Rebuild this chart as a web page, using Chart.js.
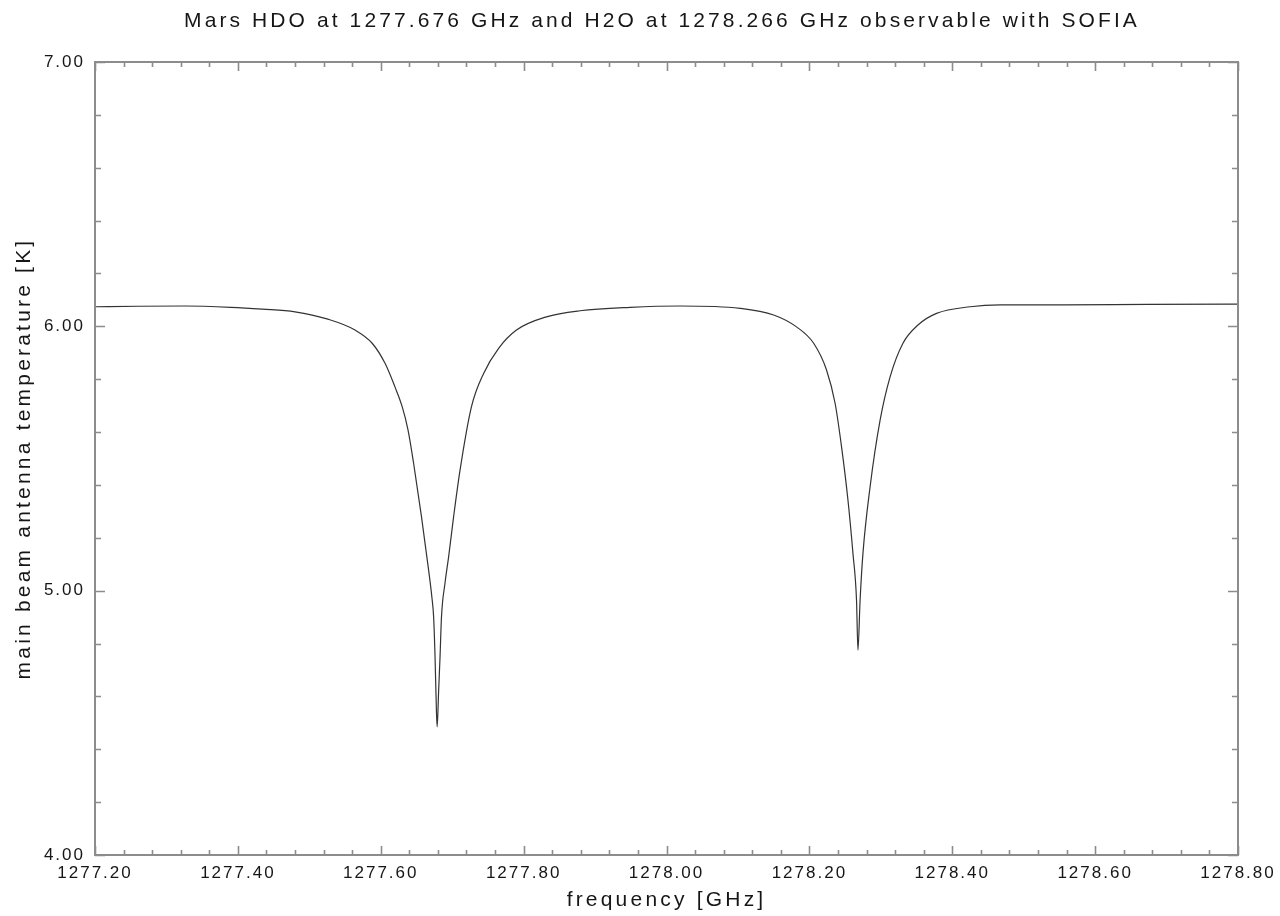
<!DOCTYPE html>
<html>
<head>
<meta charset="utf-8">
<script src="https://cdn.jsdelivr.net/npm/chart.js@4.4.0/dist/chart.umd.min.js"></script>
<style>
  html, body { margin: 0; padding: 0; background: #fff; }
  #wrap { width: 1280px; height: 916px; }
</style>
</head>
<body>
<div id="wrap"><canvas id="marsSpectrum"></canvas></div>
<script>
// frequency [GHz] and main beam antenna temperature [K]
const freqGHz = [
  1277.200, 1277.260, 1277.326, 1277.390, 1277.434, 1277.480, 1277.526, 1277.564,
  1277.588, 1277.606, 1277.620, 1277.630, 1277.638, 1277.646, 1277.657, 1277.667,
  1277.6715, 1277.674, 1277.676, 1277.678, 1277.679, 1277.681, 1277.683, 1277.685,
  1277.690, 1277.695, 1277.702, 1277.711, 1277.727, 1277.744, 1277.765, 1277.790,
  1277.832, 1277.879, 1277.949, 1278.019, 1278.103, 1278.150, 1278.182, 1278.206,
  1278.224, 1278.236, 1278.245, 1278.254, 1278.261, 1278.266, 1278.268, 1278.271,
  1278.275, 1278.285, 1278.299, 1278.313, 1278.331, 1278.352, 1278.378, 1278.425,
  1278.467, 1278.555, 1278.673, 1278.800
];
const tempK = [
  6.074, 6.076, 6.077, 6.072, 6.065, 6.055, 6.027, 5.986,
  5.936, 5.860, 5.770, 5.696, 5.610, 5.482, 5.280, 5.078,
  4.977, 4.901, 4.750, 4.540, 4.485, 4.620, 4.750, 4.900,
  5.030, 5.128, 5.280, 5.456, 5.696, 5.822, 5.917, 5.986,
  6.036, 6.059, 6.072, 6.077, 6.068, 6.043, 5.998, 5.936,
  5.835, 5.709, 5.545, 5.343, 5.141, 4.964, 4.775, 4.964,
  5.141, 5.393, 5.645, 5.809, 5.936, 6.005, 6.049, 6.074,
  6.081, 6.081, 6.083, 6.084
];

const chartTitle = 'Mars HDO at 1277.676 GHz and H2O at 1278.266 GHz observable with SOFIA';
const xMin = 1277.2, xMax = 1278.8, xMinorStep = 0.04;
const yMin = 4.0, yMax = 7.0, yMinorStep = 0.2;
const ticksPerMajor = 5;

const textColor = '#161616';
const frameColor = '#8c8c8c';
const fontFamily = '"Liberation Sans", Arial, sans-serif';

// inward tick marks on all four sides plus the box
const frameTicks = {
  id: 'frameTicks',
  beforeDraw(chart) {
    chart.ctx.letterSpacing = '2px';
  },
  afterUpdate(chart) {
    Object.values(chart.scales).forEach(s => {
      if (s._wrappedTitle) return;
      const orig = s.drawTitle;
      s.drawTitle = function () {
        const c = this.ctx;
        const prev = c.letterSpacing;
        c.letterSpacing = '3.2px';
        orig.apply(this, arguments);
        c.letterSpacing = prev;
      };
      s._wrappedTitle = true;
    });
  },
  afterDraw(chart) {
    const { ctx, chartArea: a, scales: { x, y } } = chart;
    ctx.save();
    ctx.strokeStyle = frameColor;
    ctx.lineWidth = 1.6;
    ctx.beginPath();
    x.ticks.forEach((t, i) => {
      const px = Math.round(x.getPixelForValue(t.value)) + 0.5;
      const len = i % ticksPerMajor === 0 ? 9 : 5;
      ctx.moveTo(px, a.bottom); ctx.lineTo(px, a.bottom - len);
      ctx.moveTo(px, a.top); ctx.lineTo(px, a.top + len);
    });
    y.ticks.forEach((t, i) => {
      const py = Math.round(y.getPixelForValue(t.value)) + 0.5;
      const len = i % ticksPerMajor === 0 ? 10 : 6;
      ctx.moveTo(a.left, py); ctx.lineTo(a.left + len, py);
      ctx.moveTo(a.right, py); ctx.lineTo(a.right - len, py);
    });
    ctx.stroke();
    ctx.lineWidth = 2;
    ctx.strokeRect(a.left, a.top, a.right - a.left, a.bottom - a.top);

    // chart title
    ctx.letterSpacing = '3.1px';
    ctx.font = '21px ' + fontFamily;
    ctx.fillStyle = textColor;
    ctx.textAlign = 'center';
    ctx.textBaseline = 'alphabetic';
    ctx.fillText(chartTitle, 662, 27);
    ctx.restore();
  }
};

const ctxSpectrum = document.getElementById('marsSpectrum').getContext('2d');
new Chart(ctxSpectrum, {
  type: 'line',
  data: {
    datasets: [{
      label: 'Mars spectrum',
      data: freqGHz.map((f, i) => ({ x: f, y: tempK[i] })),
      borderColor: '#333333',
      borderWidth: 1.2,
      pointRadius: 0,
      fill: false,
      cubicInterpolationMode: 'monotone'
    }]
  },
  options: {
    responsive: true,
    maintainAspectRatio: false,
    animation: false,
    layout: { padding: { top: 62, right: 42, left: 0, bottom: 0 } },
    plugins: {
      legend: { display: false },
      tooltip: { enabled: false },
      title: { display: false }
    },
    scales: {
      x: {
        type: 'linear',
        min: xMin,
        max: xMax,
        grid: { display: false, drawTicks: false },
        border: { display: false },
        ticks: {
          stepSize: xMinorStep,
          autoSkip: false,
          maxRotation: 0,
          padding: 8,
          color: textColor,
          font: { family: fontFamily, size: 17 },
          callback: (v, i) => i % ticksPerMajor === 0 ? Number(v).toFixed(2) : ''
        },
        title: {
          display: true,
          text: 'frequency [GHz]',
          color: textColor,
          font: { family: fontFamily, size: 21 },
          padding: { top: 0, bottom: 3 }
        },
        afterFit(s) { s.height = 61; }
      },
      y: {
        min: yMin,
        max: yMax,
        grid: { display: false, drawTicks: false },
        border: { display: false },
        ticks: {
          stepSize: yMinorStep,
          autoSkip: false,
          padding: 10,
          color: textColor,
          font: { family: fontFamily, size: 17 },
          callback: (v, i) => i % ticksPerMajor === 0 ? Number(v).toFixed(2) : ''
        },
        title: {
          display: true,
          text: 'main beam antenna temperature [K]',
          color: textColor,
          font: { family: fontFamily, size: 21 },
          padding: { top: 12, bottom: 0 }
        },
        afterFit(s) { s.width = 95; }
      }
    }
  },
  plugins: [frameTicks]
});
</script>
</body>
</html>
